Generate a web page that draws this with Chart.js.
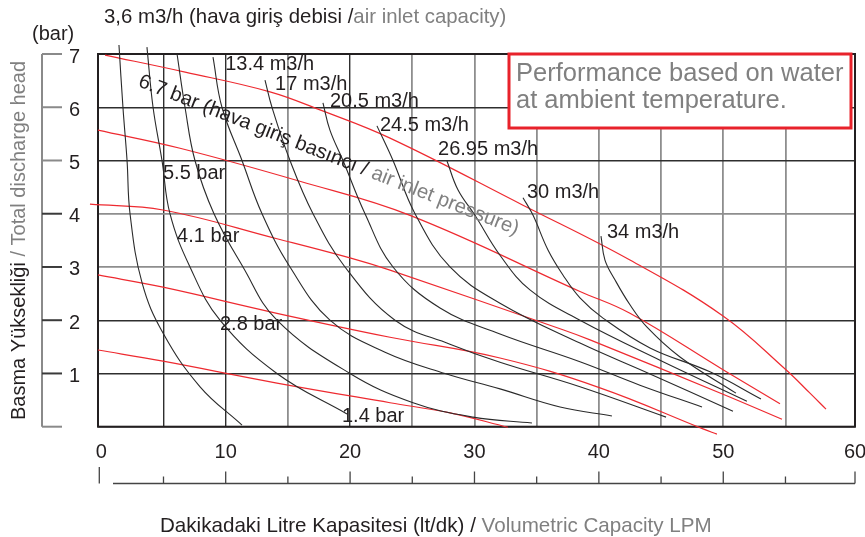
<!DOCTYPE html>
<html><head><meta charset="utf-8">
<script src="https://cdn.jsdelivr.net/npm/chart.js@4.4.1/dist/chart.umd.min.js"></script>
<style>html,body{margin:0;padding:0;background:#fff;}#wrap{width:865px;height:537px;position:relative;}</style>
</head><body><div id="wrap"><canvas id="c" width="865" height="537"></canvas></div>
<script>
// ---------------- data ----------------
const X_TICK_VALUES = [0,5,10,15,20,25,30,35,40,45,50,55,60.59];
const X_TICK_LABELS = ['0','','10','','20','','30','','40','','50','','60'];
const Y_TICK_LABELS = ['','1','2','3','4','5','6','7'];

// air consumption curves (m3/h) : [LPM, bar]
const AIR_3_6   = [[1.42,7.17],[1.74,6.00],[2.07,5.00],[2.31,4.00],[3.28,2.70],[4.96,1.76],[7.94,0.75],[11.31,0.03]];
const AIR_CURVE_B = [[3.67,7.13],[4.16,6.00],[4.88,5.00],[5.52,4.00],[7.13,3.00],[9.54,2.00],[14.12,1.00],[19.75,0.24]];
const AIR_CURVE_C = [[6.09,7.00],[6.73,6.00],[7.53,5.00],[9.06,4.00],[11.39,3.00],[14.12,2.00],[19.99,1.00],[25.06,0.45],[29.88,0.18],[34.62,0.07]];
const AIR_13_4  = [[8.98,6.94],[9.70,6.00],[11.31,5.00],[12.92,4.00],[15.17,3.00],[18.38,2.00],[22.81,1.40],[27.63,1.00],[32.05,0.71],[36.88,0.37],[41.05,0.20]];
const AIR_17    = [[13.16,6.51],[13.72,6.00],[15.17,5.00],[17.02,4.00],[19.59,3.00],[23.61,2.00],[28.03,1.55],[32.05,1.21],[38.48,0.75],[45.40,0.18]];
const AIR_20_5  = [[17.82,6.08],[18.38,5.57],[19.43,5.00],[21.20,4.00],[23.45,3.00],[27.23,2.23],[32.05,1.74],[38.48,1.22],[43.30,0.78],[48.29,0.37]];
const AIR_24_5  = [[22.16,5.65],[23.45,5.00],[25.22,4.00],[28.03,3.00],[32.05,2.32],[38.48,1.57],[44.11,0.99],[50.78,0.29]];
const AIR_26_95 = [[27.79,4.99],[28.67,4.45],[30.04,3.97],[32.05,3.22],[34.46,2.57],[38.48,2.00],[44.91,1.25],[51.90,0.48]];
const AIR_30    = [[33.90,4.30],[34.71,3.97],[35.91,3.32],[37.11,2.85],[38.48,2.42],[40.33,2.04],[44.11,1.48],[48.93,1.03],[53.03,0.52]];
const AIR_34    = [[40.17,3.58],[40.49,3.13],[41.29,2.76],[42.50,2.29],[43.87,1.87],[46.52,1.31],[51.02,0.63]];

// air inlet pressure curves (bar) : [LPM, bar]
const P_6_7 = [[0.30,6.98],[6.74,6.66],[13.56,6.29],[17.58,5.95],[23.21,5.42],[33.90,4.16],[42.50,3.13],[49.98,2.08],[55.04,1.07],[56.97,0.63],[58.26,0.33]];
const P_5_5 = [[-0.27,5.57],[6.33,5.23],[15.96,4.61],[24.82,3.97],[38.48,2.54],[42.50,2.13],[49.98,1.07],[54.56,0.43]];
const P_4_1 = [[-0.91,4.18],[4.96,4.07],[14.12,3.53],[19.99,3.17],[23.21,2.94],[37.11,1.82],[39.29,1.63],[49.98,0.61],[54.72,0.14]];
const P_2_8 = [[-0.27,2.85],[4.96,2.62],[14.12,2.13],[23.21,1.68],[32.05,1.29],[40.09,0.73],[48.37,-0.04],[49.49,-0.14]];
const P_1_4 = [[-0.27,1.44],[4.96,1.23],[14.12,0.82],[23.21,0.45],[28.03,0.26],[32.69,-0.01]];

const AIR_SERIES = [AIR_3_6, AIR_CURVE_B, AIR_CURVE_C, AIR_13_4, AIR_17, AIR_20_5, AIR_24_5, AIR_26_95, AIR_30, AIR_34];
const PRESSURE_SERIES = [P_6_7, P_5_5, P_4_1, P_2_8, P_1_4];

// curve labels (text + anchor in data units)
const CURVE_LABELS = [
  {text:'13.4 m3/h',  x:9.96,  y:6.70},
  {text:'17 m3/h',    x:13.97, y:6.33},
  {text:'20.5 m3/h',  x:18.38, y:6.00},
  {text:'24.5 m3/h',  x:22.40, y:5.55},
  {text:'26.95 m3/h', x:27.07, y:5.11},
  {text:'30 m3/h',    x:34.22, y:4.29},
  {text:'34 m3/h',    x:40.65, y:3.54},
  {text:'5.5 bar',    x:4.96,  y:4.66},
  {text:'4.1 bar',    x:6.09,  y:3.47},
  {text:'2.8 bar',    x:9.54,  y:1.82},
  {text:'1.4 bar',    x:19.35, y:0.09}
];
const PRESSURE_LABEL = {black:'6.7 bar (hava giriş basıncı / ', gray:'air inlet pressure)', x:2.9, y:6.40, angle:21.5};
const TOP_TITLE = {black:'3,6 m3/h (hava giriş debisi /', gray:'air inlet capacity)'};
const X_TITLE = {black:'Dakikadaki Litre Kapasitesi (lt/dk) / ', gray:'Volumetric Capacity LPM'};
const Y_TITLE = {black:'Basma Yüksekliği ', gray:'/ Total discharge head'};
const Y_UNIT = '(bar)';
const NOTE_LINES = ['Performance based on water', 'at ambient temperature.'];

// ---------------- styles ----------------
const FONT = '"Liberation Sans", Arial, Helvetica, sans-serif';
const INK = '#231f20', INK_GRAY = '#808080';
const RED = '#ee2a30', CURVE_INK = '#2a2a2a';
const GRID_DARK = '#2e2e2e', GRID_GRAY = '#8e8e8e';

function segs(ctx, parts, x, y) {
  let cx = x;
  for (const [t, c] of parts) { ctx.fillStyle = c; ctx.fillText(t, cx, y); cx += ctx.measureText(t).width; }
}

const decor = {
  id: 'decor',
  beforeDraw(chart) {
    const ctx = chart.ctx; ctx.save(); ctx.fillStyle = '#fff'; ctx.fillRect(0,0,chart.width,chart.height); ctx.restore();
  },
  beforeDatasetsDraw(chart) {
    const {ctx, chartArea:a} = chart;
    ctx.save();
    ctx.strokeStyle = INK; ctx.lineWidth = 2;
    ctx.strokeRect(a.left, a.top, a.right - a.left, a.bottom - a.top);
    ctx.restore();
  },
  afterDatasetsDraw(chart) {
    const {ctx, scales:{x:xs, y:ys}} = chart;
    ctx.save();
    ctx.font = '20px ' + FONT; ctx.textBaseline = 'alphabetic'; ctx.textAlign = 'left';
    ctx.fillStyle = INK;
    for (const l of CURVE_LABELS) ctx.fillText(l.text, xs.getPixelForValue(l.x), ys.getPixelForValue(l.y));
    ctx.save();
    ctx.translate(xs.getPixelForValue(PRESSURE_LABEL.x), ys.getPixelForValue(PRESSURE_LABEL.y));
    ctx.rotate(PRESSURE_LABEL.angle * Math.PI / 180);
    ctx.font = '20.3px ' + FONT;
    segs(ctx, [[PRESSURE_LABEL.black, INK],[PRESSURE_LABEL.gray, INK_GRAY]], 0, 0);
    ctx.restore();
    ctx.fillStyle = '#fff'; ctx.fillRect(509, 54, 342, 74);
    ctx.strokeStyle = '#e8222b'; ctx.lineWidth = 3; ctx.strokeRect(509, 54, 342, 74);
    ctx.font = '25.5px ' + FONT; ctx.fillStyle = INK_GRAY;
    ctx.fillText(NOTE_LINES[0], 516, 81);
    ctx.fillText(NOTE_LINES[1], 516, 108);
    ctx.restore();
  },
  afterDraw(chart) {
    const {ctx, scales:{x:xs, y:ys}} = chart;
    ctx.save();
    ctx.lineWidth = 2; ctx.strokeStyle = '#8a8a8a';
    ctx.beginPath(); ctx.moveTo(42, ys.getPixelForValue(7)); ctx.lineTo(42, ys.getPixelForValue(0)); ctx.stroke();
    for (let v = 0; v <= 7; v++) {
      const py = ys.getPixelForValue(v);
      ctx.strokeStyle = (v >= 1 && v <= 4) ? '#3a3a3a' : '#8a8a8a';
      ctx.beginPath(); ctx.moveTo(42, py); ctx.lineTo(62, py); ctx.stroke();
    }
    ctx.strokeStyle = '#444'; ctx.lineWidth = 1.3;
    const by = 483.5;
    ctx.beginPath(); ctx.moveTo(113, by); ctx.lineTo(xs.getPixelForValue(X_TICK_VALUES[X_TICK_VALUES.length-1]), by); ctx.stroke();
    X_TICK_VALUES.forEach((v, i) => {
      const px = xs.getPixelForValue(v);
      if (i === 0) { ctx.beginPath(); ctx.moveTo(px - 2, 467); ctx.lineTo(px - 2, by); ctx.stroke(); return; }
      const len = X_TICK_LABELS[i] ? 12 : 7;
      ctx.beginPath(); ctx.moveTo(px, by); ctx.lineTo(px, by - len); ctx.stroke();
    });
    ctx.textBaseline = 'alphabetic'; ctx.textAlign = 'left';
    ctx.font = '20.4px ' + FONT;
    segs(ctx, [[TOP_TITLE.black, INK],[TOP_TITLE.gray, INK_GRAY]], 104, 23);
    ctx.font = '20px ' + FONT;
    ctx.fillStyle = INK; ctx.fillText(Y_UNIT, 32, 40);
    ctx.font = '20.6px ' + FONT;
    segs(ctx, [[X_TITLE.black, INK],[X_TITLE.gray, INK_GRAY]], 160, 532);
    ctx.font = '20px ' + FONT;
    ctx.save(); ctx.translate(25, 420); ctx.rotate(-Math.PI/2);
    segs(ctx, [[Y_TITLE.black, INK],[Y_TITLE.gray, INK_GRAY]], 0, 0);
    ctx.restore();
    ctx.restore();
  }
};

const toPts = arr => arr.map(([x, y]) => ({x, y}));
const datasets = [
  ...AIR_SERIES.map(s => ({data: toPts(s), borderColor: CURVE_INK, borderWidth: 1.1})),
  ...PRESSURE_SERIES.map(s => ({data: toPts(s), borderColor: RED, borderWidth: 1.2}))
].map(d => Object.assign(d, {pointRadius: 0, fill: false, clip: false, tension: 0.4}));

new Chart(document.getElementById('c'), {
  type: 'line',
  data: {datasets},
  plugins: [decor],
  options: {
    responsive: false, animation: false, events: [],
    layout: {padding: {left: 0, right: 10, top: 54, bottom: 0}},
    plugins: {legend: {display: false}, tooltip: {enabled: false}, title: {display: false}},
    scales: {
      x: {
        type: 'linear', min: -0.265, max: 60.59,
        afterBuildTicks: s => { s.ticks = X_TICK_VALUES.map(v => ({value: v})); },
        afterFit: s => { s.height = 110.3; s.paddingLeft = 0; s.paddingRight = 0; },
        border: {display: false},
        grid: {drawTicks: false, lineWidth: ctx => ([5,10,20].includes(ctx.tick && ctx.tick.value) ? 1.4 : 1.8),
               color: ctx => { const v = ctx.tick ? ctx.tick.value : null; if (v === 0) return 'rgba(0,0,0,0)'; return [5,10,20].includes(v) ? GRID_DARK : GRID_GRAY; }},
        ticks: {autoSkip: false, maxRotation: 0, padding: 14, color: INK, font: {family: FONT, size: 20},
                callback: v => { const i = X_TICK_VALUES.indexOf(v); return i >= 0 ? X_TICK_LABELS[i] : ''; }}
      },
      y: {
        type: 'linear', min: 0, max: 7,
        afterFit: s => { s.width = 98; s.paddingTop = 0; s.paddingBottom = 0; },
        border: {display: false},
        grid: {drawTicks: false, lineWidth: ctx => ([3,4].includes(ctx.tick && ctx.tick.value) ? 1.8 : 1.4),
               color: ctx => ([3,4].includes(ctx.tick && ctx.tick.value) ? GRID_GRAY : GRID_DARK)},
        ticks: {stepSize: 1, padding: 18, labelOffset: 3, color: INK, font: {family: FONT, size: 20},
                callback: v => Y_TICK_LABELS[v] ?? ''}
      }
    }
  }
});
</script></body></html>
